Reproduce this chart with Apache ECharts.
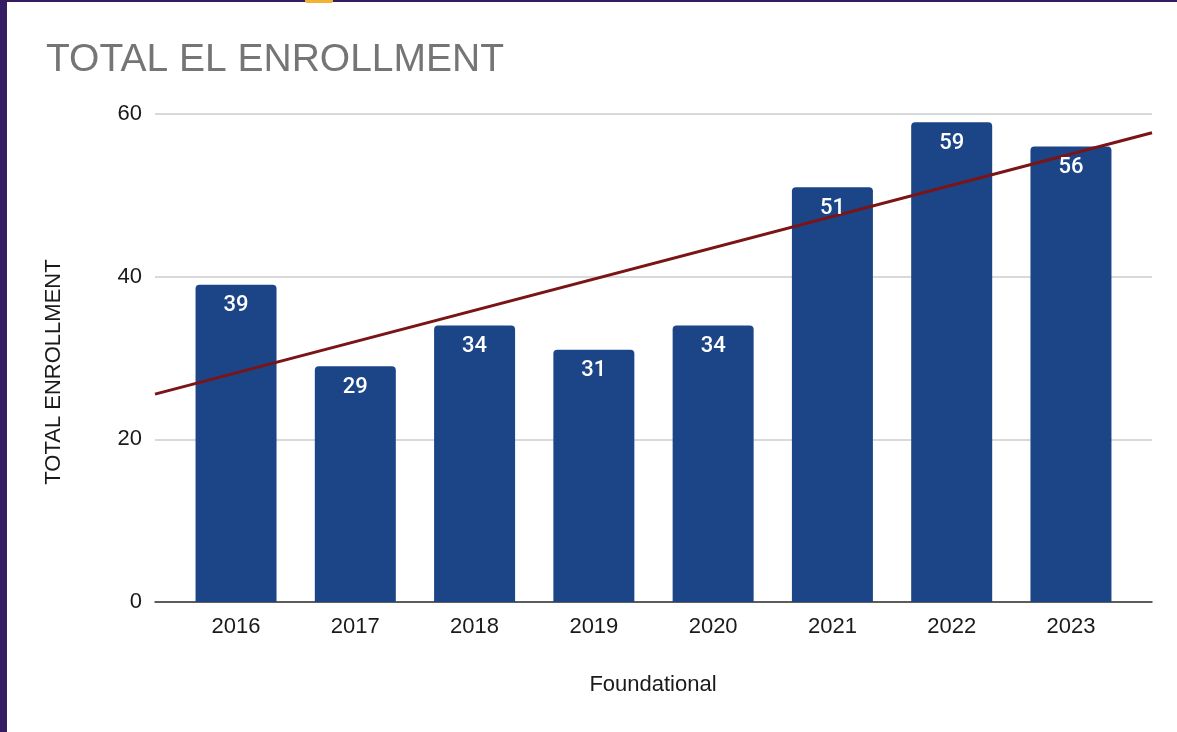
<!DOCTYPE html>
<html>
<head>
<meta charset="utf-8">
<style>
  html, body { margin: 0; padding: 0; background: #ffffff; }
  #chart { width: 1177px; height: 732px; }
</style>
<script src="https://cdn.jsdelivr.net/npm/echarts@6/dist/echarts.min.js"></script>
</head>
<body>
<div id="chart"></div>
<script>
// Yearly EL enrollment
const years = ['2016', '2017', '2018', '2019', '2020', '2021', '2022', '2023'];
const enrollment = [39, 29, 34, 31, 34, 51, 59, 56];
const yTicks = [0, 20, 40, 60];

const chartTitle = 'TOTAL EL ENROLLMENT';
const yAxisTitle = 'TOTAL ENROLLMENT';
const xAxisTitle = 'Foundational';

// Least-squares trendline over the category index
function linearFit(vals) {
  const n = vals.length;
  const mx = (n - 1) / 2;
  const my = vals.reduce((a, b) => a + b, 0) / n;
  let sxy = 0, sxx = 0;
  vals.forEach((v, i) => { sxy += (i - mx) * (v - my); sxx += (i - mx) * (i - mx); });
  const slope = sxy / sxx;
  return { slope, intercept: my - slope * mx };
}
const fit = linearFit(enrollment);

// Plot geometry: the outer frame (gridlines, baseline, trend) is wider than the bar bands
const outerLeft = 155, outerRight = 1152;
const bandLeft = 176.4, bandRight = 1130.6;
const bandWidth = (bandRight - bandLeft) / years.length;
const xMin = -0.5 - (bandLeft - outerLeft) / bandWidth;
const xMax = years.length - 0.5 + (outerRight - bandRight) / bandWidth;
const trend = [xMin, xMax].map(x => [x, fit.intercept + fit.slope * x]);

const barColor = '#1c4587';
const axisFont = "'Liberation Sans', Arial, sans-serif";

const chart = echarts.init(document.getElementById('chart'), null, { renderer: 'canvas' });
chart.setOption({
  backgroundColor: '#ffffff',
  animation: false,
  title: {
    text: chartTitle,
    left: 41,
    top: 36,
    textStyle: { color: '#757575', fontSize: 39, fontWeight: 'normal', fontFamily: axisFont }
  },
  grid: [
    { left: outerLeft, right: 1177 - outerRight, top: 114, bottom: 130 },
    { left: bandLeft, right: 1177 - bandRight, top: 114, bottom: 130 }
  ],
  xAxis: [
    {
      type: 'value', gridIndex: 0, min: xMin, max: xMax,
      axisLine: { show: true, onZero: false, lineStyle: { color: '#333333', width: 1.5 } },
      axisTick: { show: false }, axisLabel: { show: false }, splitLine: { show: false }
    },
    {
      type: 'category', gridIndex: 1, data: years, boundaryGap: true,
      axisLine: { show: false }, axisTick: { show: false },
      axisLabel: { color: '#1a1a1a', fontSize: 22, fontFamily: axisFont, margin: 14 }
    }
  ],
  yAxis: [
    {
      type: 'value', gridIndex: 0, min: yTicks[0], max: yTicks[yTicks.length - 1],
      interval: yTicks[1] - yTicks[0],
      axisLine: { show: false }, axisTick: { show: false },
      axisLabel: { color: '#1a1a1a', fontSize: 22, fontFamily: axisFont, margin: 13 },
      splitLine: { show: true, lineStyle: { color: '#cccccc', width: 1.5 } }
    },
    {
      type: 'value', gridIndex: 1, min: yTicks[0], max: yTicks[yTicks.length - 1],
      show: false, splitLine: { show: false }
    }
  ],
  series: [
    {
      type: 'bar', xAxisIndex: 1, yAxisIndex: 1, data: enrollment,
      barWidth: 81, z: 2,
      itemStyle: { color: barColor, borderRadius: [4, 4, 0, 0] },
      label: { show: false }
    },
    {
      type: 'line', xAxisIndex: 0, yAxisIndex: 0, data: trend,
      symbol: 'none', z: 3, silent: true,
      lineStyle: { color: '#7b1416', width: 3 }
    },
    {
      // value labels drawn above the trendline
      type: 'bar', xAxisIndex: 1, yAxisIndex: 1, data: enrollment,
      barWidth: 81, barGap: '-100%', z: 4,
      itemStyle: { color: 'rgba(0,0,0,0)' },
      label: {
        show: true, position: 'insideTop', distance: 10,
        color: '#ffffff', fontSize: 22, fontFamily: 'Roboto, sans-serif', fontWeight: 500
      }
    }
  ],
  graphic: [
    {
      type: 'text', x: 54, y: 372, rotation: Math.PI / 2,
      style: {
        text: yAxisTitle, align: 'center', verticalAlign: 'middle',
        fill: '#1a1a1a', font: "22px 'Liberation Sans', Arial, sans-serif"
      }
    },
    {
      type: 'text', x: 653, y: 685,
      style: {
        text: xAxisTitle, align: 'center', verticalAlign: 'middle',
        fill: '#1a1a1a', font: "22px 'Liberation Sans', Arial, sans-serif"
      }
    },
    { type: 'rect', shape: { x: 0, y: 0, width: 7, height: 732 }, style: { fill: '#341b62' } },
    { type: 'rect', shape: { x: 0, y: 0, width: 1177, height: 2 }, style: { fill: '#341b62' } },
    { type: 'rect', shape: { x: 305, y: 0, width: 28, height: 3, r: [0, 0, 2, 2] }, style: { fill: '#f2b233' } }
  ]
});
</script>
</body>
</html>
